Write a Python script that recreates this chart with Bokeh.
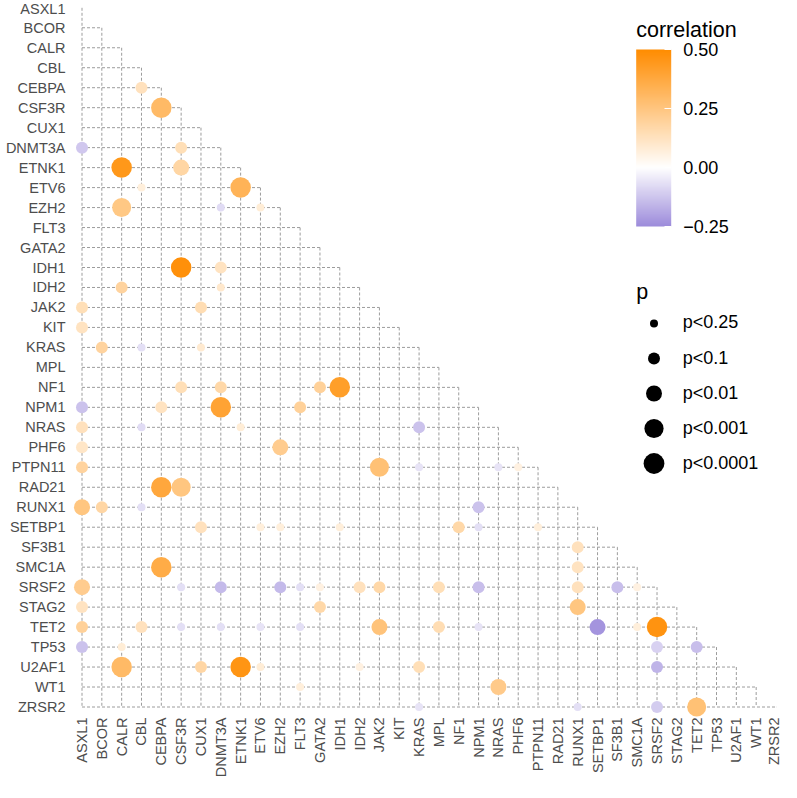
import math
import numpy as np
from bokeh.plotting import figure
from bokeh.models import (Range1d, FixedTicker, LinearColorMapper, ColorBar,
                          PrintfTickFormatter, Legend, LegendItem, Label,
                          ColumnDataSource)
from bokeh.transform import transform
from bokeh.embed import file_html
from bokeh.resources import INLINE

# ---------------- data ----------------
GENES = ["ASXL1", "BCOR", "CALR", "CBL", "CEBPA", "CSF3R", "CUX1", "DNMT3A",
         "ETNK1", "ETV6", "EZH2", "FLT3", "GATA2", "IDH1", "IDH2", "JAK2",
         "KIT", "KRAS", "MPL", "NF1", "NPM1", "NRAS", "PHF6", "PTPN11",
         "RAD21", "RUNX1", "SETBP1", "SF3B1", "SMC1A", "SRSF2", "STAG2",
         "TET2", "TP53", "U2AF1", "WT1", "ZRSR2"]

ROW_GENE = [
    "CEBPA", "CSF3R", "DNMT3A", "DNMT3A", "ETNK1", "ETNK1", "ETV6", "ETV6",
    "EZH2", "EZH2", "EZH2", "IDH1", "IDH1", "IDH2", "IDH2", "JAK2", "JAK2",
    "KIT", "KRAS", "KRAS", "KRAS", "NF1", "NF1", "NF1", "NF1",
    "NPM1", "NPM1", "NPM1", "NPM1", "NRAS", "NRAS", "NRAS", "NRAS",
    "PHF6", "PHF6", "PTPN11", "PTPN11", "PTPN11", "PTPN11", "PTPN11",
    "RAD21", "RAD21", "RUNX1", "RUNX1", "RUNX1", "RUNX1",
    "SETBP1", "SETBP1", "SETBP1", "SETBP1", "SETBP1", "SETBP1", "SETBP1",
    "SF3B1", "SMC1A", "SMC1A",
    "SRSF2", "SRSF2", "SRSF2", "SRSF2", "SRSF2", "SRSF2", "SRSF2", "SRSF2",
    "SRSF2", "SRSF2", "SRSF2", "SRSF2", "SRSF2",
    "STAG2", "STAG2", "STAG2",
    "TET2", "TET2", "TET2", "TET2", "TET2", "TET2", "TET2", "TET2", "TET2",
    "TET2", "TET2", "TET2",
    "TP53", "TP53", "TP53", "TP53",
    "U2AF1", "U2AF1", "U2AF1", "U2AF1", "U2AF1", "U2AF1", "U2AF1",
    "WT1", "WT1",
    "ZRSR2", "ZRSR2", "ZRSR2", "ZRSR2"]

COL_GENE = [
    "CBL", "CEBPA", "ASXL1", "CSF3R", "CALR", "CSF3R", "CBL", "ETNK1",
    "CALR", "DNMT3A", "ETV6", "CSF3R", "DNMT3A", "CALR", "DNMT3A", "ASXL1", "CUX1",
    "ASXL1", "BCOR", "CBL", "CUX1", "CSF3R", "DNMT3A", "GATA2", "IDH1",
    "ASXL1", "CEBPA", "DNMT3A", "FLT3", "ASXL1", "CBL", "ETNK1", "KRAS",
    "ASXL1", "EZH2", "ASXL1", "JAK2", "KRAS", "NRAS", "PHF6",
    "CEBPA", "CSF3R", "ASXL1", "BCOR", "CBL", "NPM1",
    "CUX1", "ETV6", "EZH2", "IDH1", "NF1", "NPM1", "PTPN11",
    "RUNX1", "CEBPA", "RUNX1",
    "ASXL1", "CSF3R", "DNMT3A", "EZH2", "FLT3", "GATA2", "IDH2", "JAK2",
    "MPL", "NPM1", "RUNX1", "SF3B1", "SMC1A",
    "ASXL1", "GATA2", "RUNX1",
    "ASXL1", "CBL", "CSF3R", "DNMT3A", "ETV6", "FLT3", "JAK2", "MPL", "NPM1",
    "SETBP1", "SMC1A", "SRSF2",
    "ASXL1", "CALR", "SRSF2", "TET2",
    "CALR", "CUX1", "ETNK1", "ETV6", "IDH2", "KRAS", "SRSF2",
    "FLT3", "NRAS",
    "KRAS", "RUNX1", "SRSF2", "TET2"]

CORR = [
    0.13, 0.30, -0.12, 0.14, 0.45, 0.18, 0.07, 0.33,
    0.24, -0.08, 0.08, 0.48, 0.12, 0.19, 0.10, 0.14, 0.15,
    0.12, 0.19, -0.07, 0.09, 0.14, 0.17, 0.20, 0.42,
    -0.13, 0.12, 0.40, 0.20, 0.13, -0.08, 0.08, -0.13,
    0.11, 0.22, 0.19, 0.27, -0.06, -0.06, 0.06,
    0.38, 0.25, 0.25, 0.18, -0.07, -0.13,
    0.13, 0.07, 0.07, 0.07, 0.17, -0.07, 0.07,
    0.13, 0.36, 0.12,
    0.22, -0.07, -0.15, -0.15, -0.07, 0.06, 0.13, 0.17,
    0.14, -0.14, 0.13, -0.14, 0.06,
    0.12, 0.17, 0.25,
    0.20, 0.13, -0.07, -0.07, -0.06, -0.07, 0.26, 0.15, -0.06,
    -0.23, 0.07, 0.47,
    -0.13, 0.08, -0.10, -0.14,
    0.30, 0.18, 0.46, 0.08, 0.06, 0.14, -0.16,
    0.07, 0.23,
    -0.06, -0.07, -0.11, 0.27]

PVAL = [
    "p<0.1", "p<0.0001", "p<0.1", "p<0.1", "p<0.0001", "p<0.01", "p<0.25", "p<0.0001",
    "p<0.001", "p<0.25", "p<0.25", "p<0.0001", "p<0.1", "p<0.1", "p<0.25", "p<0.1", "p<0.1",
    "p<0.1", "p<0.1", "p<0.25", "p<0.25", "p<0.1", "p<0.1", "p<0.1", "p<0.0001",
    "p<0.1", "p<0.1", "p<0.0001", "p<0.1", "p<0.1", "p<0.25", "p<0.25", "p<0.1",
    "p<0.1", "p<0.01", "p<0.1", "p<0.001", "p<0.25", "p<0.25", "p<0.25",
    "p<0.0001", "p<0.001", "p<0.01", "p<0.1", "p<0.25", "p<0.1",
    "p<0.1", "p<0.25", "p<0.25", "p<0.25", "p<0.1", "p<0.25", "p<0.25",
    "p<0.1", "p<0.0001", "p<0.1",
    "p<0.01", "p<0.25", "p<0.1", "p<0.1", "p<0.25", "p<0.25", "p<0.1", "p<0.1",
    "p<0.1", "p<0.1", "p<0.1", "p<0.1", "p<0.25",
    "p<0.1", "p<0.1", "p<0.01",
    "p<0.1", "p<0.1", "p<0.25", "p<0.25", "p<0.25", "p<0.25", "p<0.01", "p<0.1", "p<0.25",
    "p<0.01", "p<0.25", "p<0.0001",
    "p<0.1", "p<0.25", "p<0.1", "p<0.1",
    "p<0.0001", "p<0.1", "p<0.0001", "p<0.25", "p<0.25", "p<0.1", "p<0.1",
    "p<0.25", "p<0.01",
    "p<0.25", "p<0.25", "p<0.1", "p<0.001"]

P_LEVELS = ["p<0.25", "p<0.1", "p<0.01", "p<0.001", "p<0.0001"]
CBAR_TICKS = [-0.25, 0.0, 0.25, 0.5]
CBAR_LOW, CBAR_HIGH = -0.25, 0.5

# ---------------- styling / layout constants ----------------
P_DIAM = [8, 12, 16, 19, 20.5]
LEG_GLYPH_H = [20, 30, 40, 48, 52]
W, H = 781, 782
FRAME_L, FRAME_B_BORDER = 72, 65
FRAME_W, FRAME_H = W - FRAME_L, H - FRAME_B_BORDER
COL0, COLN = 81.5, 775.5
ROW0, ROWN = 7.3, 706.5
FONT = "Liberation Sans"

n = len(GENES)
DX = (COLN - COL0) / (n - 1)
DY = (ROWN - ROW0) / (n - 1)
x_start = -(COL0 - FRAME_L) / DX
x_end = x_start + FRAME_W / DX
y_end = -ROW0 / DY
y_start = y_end + FRAME_H / DY

# colour palette: purple -> white -> dark orange
LOW_C, MID_C, HIGH_C = (156, 139, 219), (255, 255, 255), (255, 140, 0)


def lerp(a, b, t):
    return "#%02x%02x%02x" % tuple(int(round(a[i] + (b[i] - a[i]) * t)) for i in range(3))


palette = []
for k in range(256):
    v = CBAR_LOW + (CBAR_HIGH - CBAR_LOW) * (k + 0.5) / 256
    if v < 0:
        palette.append(lerp(LOW_C, MID_C, (v - CBAR_LOW) / (0 - CBAR_LOW)))
    else:
        palette.append(lerp(MID_C, HIGH_C, v / CBAR_HIGH))
mapper = LinearColorMapper(palette=palette, low=CBAR_LOW, high=CBAR_HIGH)

p = figure(width=W, height=H, output_backend="svg", toolbar_location=None,
           x_range=Range1d(x_start, x_end), y_range=Range1d(y_start, y_end),
           min_border_left=FRAME_L, min_border_right=0, min_border_top=0,
           min_border_bottom=FRAME_B_BORDER)
p.outline_line_color = None
p.xgrid.visible = False
p.ygrid.visible = False
p.background_fill_color = "white"
p.border_fill_color = "white"

idx = list(range(n))
# dashed lower-triangle grid
p.segment(x0=[0] * n, y0=idx, x1=idx, y1=idx,
          line_color="#9c9c9c", line_width=1, line_dash="3 2")
p.segment(x0=idx, y0=idx, x1=idx, y1=[n - 1] * n,
          line_color="#9c9c9c", line_width=1, line_dash="3 2")

src = ColumnDataSource(dict(
    x=[GENES.index(c) for c in COL_GENE],
    y=[GENES.index(r) for r in ROW_GENE],
    r=CORR,
    size=[P_DIAM[P_LEVELS.index(v)] for v in PVAL],
))
p.scatter("x", "y", size="size", source=src, fill_color=transform("r", mapper),
          line_color=None)

for ax in (p.xaxis[0], p.yaxis[0]):
    ax.ticker = FixedTicker(ticks=idx)
    ax.major_label_overrides = {i: g for i, g in enumerate(GENES)}
    ax.axis_line_color = None
    ax.major_tick_line_color = None
    ax.minor_tick_line_color = None
    ax.major_tick_out = 0
    ax.major_tick_in = 0
    ax.major_label_text_font = FONT
    ax.major_label_text_font_size = "14.5px"
    ax.major_label_text_color = "#4d4d4d"
p.xaxis.major_label_orientation = math.pi / 2
p.xaxis.major_label_standoff = 0
p.yaxis.major_label_standoff = 7

# colour bar
BAR_L, BAR_B, BAR_W, BAR_H = 635.7, 226, 35, 177
cbar = ColorBar(color_mapper=mapper, ticker=FixedTicker(ticks=CBAR_TICKS),
                formatter=PrintfTickFormatter(format="%.2f"),
                major_label_overrides={-0.25: "\u22120.25"},
                width=BAR_W, height=BAR_H, padding=0,
                major_label_text_font=FONT, major_label_text_font_size="18px",
                major_label_text_color="black", label_standoff=12,
                major_tick_line_color="white", major_tick_in=7, major_tick_out=0,
                minor_tick_line_color=None, bar_line_color=None,
                border_line_color=None, background_fill_alpha=0,
                location=(BAR_L - FRAME_L, FRAME_H - BAR_B))
p.add_layout(cbar, "center")
TITLE_CORR_BASE, TITLE_P_BASE = 29, 291
p.add_layout(Label(x=BAR_L - FRAME_L, y=FRAME_H - TITLE_CORR_BASE, x_units="screen",
                   y_units="screen", text="correlation", text_font=FONT,
                   text_font_size="21.5px", text_color="black",
                   text_baseline="alphabetic"))

# size legend
p.add_layout(Label(x=BAR_L - FRAME_L, y=FRAME_H - TITLE_P_BASE, x_units="screen",
                   y_units="screen", text="p", text_font=FONT,
                   text_font_size="21.5px", text_color="black",
                   text_baseline="alphabetic"))
LEG_Y0, LEG_STEP, LEG_CX, LEG_GW = 323.3, 35.0, 653.3, 53
for k, lab in enumerate(P_LEVELS):
    gh = LEG_GLYPH_H[k]
    dummy = ColumnDataSource(dict(x=np.array([np.nan]), y=np.array([np.nan])))
    r = p.scatter("x", "y", source=dummy, fill_color="black", line_color=None)
    yc = LEG_Y0 + LEG_STEP * k
    leg = Legend(items=[LegendItem(label=lab, renderers=[r])],
                 location=(LEG_CX - LEG_GW / 2 - FRAME_L, FRAME_H - (yc + gh / 2)),
                 glyph_width=LEG_GW, glyph_height=gh, label_height=gh,
                 label_standoff=3, padding=0, margin=0, spacing=0,
                 border_line_color=None, background_fill_alpha=0,
                 label_text_font=FONT, label_text_font_size="18px",
                 label_text_color="black")
    p.add_layout(leg, "center")

open("out.html", "w").write(file_html(p, INLINE))
